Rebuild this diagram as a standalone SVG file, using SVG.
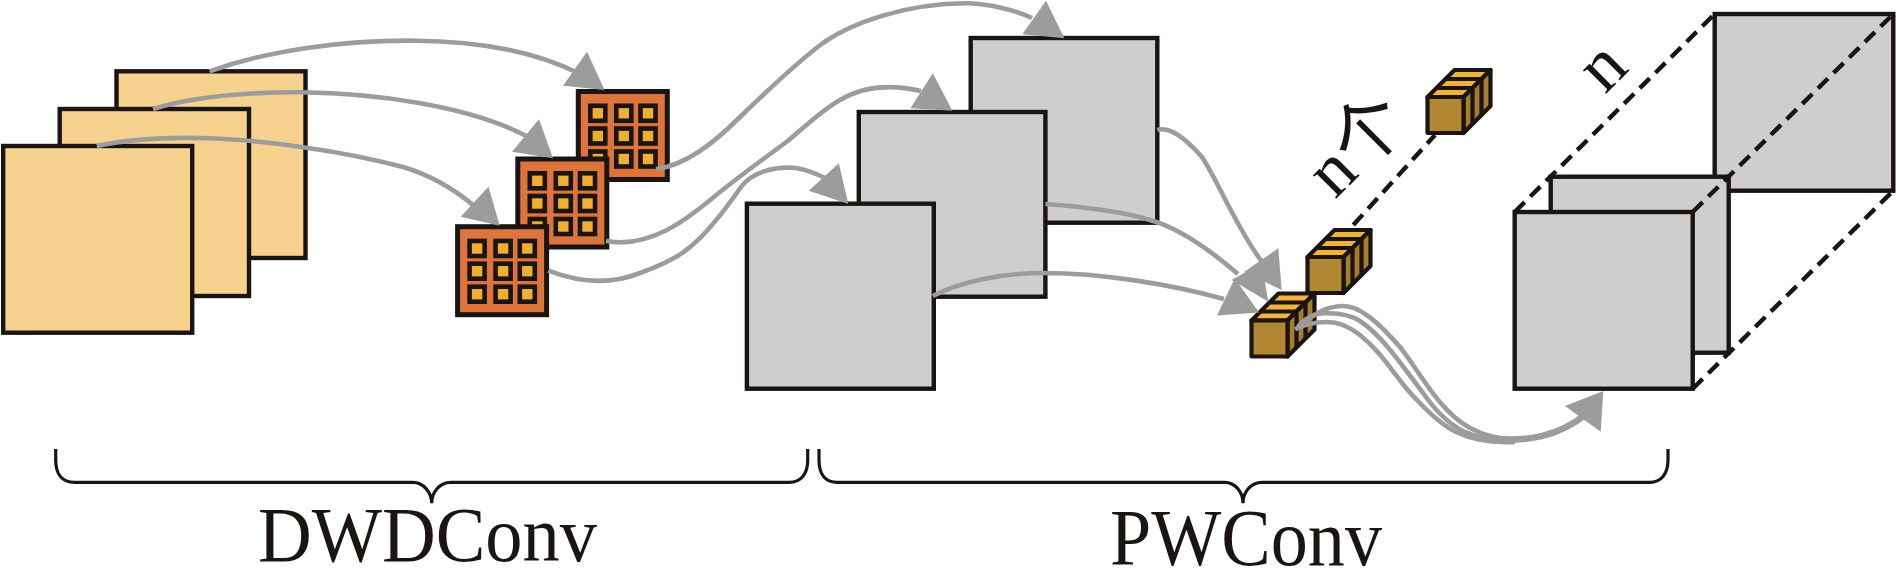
<svg xmlns="http://www.w3.org/2000/svg" xmlns:xlink="http://www.w3.org/1999/xlink" width="1896" height="588" viewBox="0 0 1896 588">
<style>
.y{fill:#f6d28e;stroke:#1a1512;stroke-width:4.4}
.o{fill:#dd743c;stroke:#1a1512;stroke-width:5}
.c{fill:#f2ae32;stroke:#1a1512;stroke-width:4.6}
.g{fill:#cecece;stroke:#1a1512;stroke-width:4.4}
.d{fill:none;stroke:#1a1512;stroke-width:4.4;stroke-dasharray:14 8}
.a{fill:none;stroke:#9c9c9c;stroke-width:4.6}
.h{fill:#9c9c9c;stroke:none}
.b{fill:none;stroke:#1a1512;stroke-width:3.2}
.t{font-family:"Liberation Serif","Noto Sans CJK SC",serif;fill:#1a1512}
.k{stroke:#1a1512;stroke-width:4.2;stroke-linejoin:round}
</style>
<defs>
<g id="tile">
<rect class="o" x="0" y="0" width="89" height="88"/>
<g class="cells">
<rect class="c" x="12" y="14.3" width="15" height="15"/><rect class="c" x="38" y="14.3" width="15" height="15"/><rect class="c" x="62.2" y="14.3" width="15" height="15"/>
<rect class="c" x="12" y="37" width="15" height="15"/><rect class="c" x="38" y="37" width="15" height="15"/><rect class="c" x="62.2" y="37" width="15" height="15"/>
<rect class="c" x="12" y="60" width="15" height="15"/><rect class="c" x="38" y="60" width="15" height="15"/><rect class="c" x="62.2" y="60" width="15" height="15"/>
</g>
</g>
<g id="cube">
<path class="k" fill="#f3b23c" d="M0 0L27 -27H63L36 0Z"/>
<path class="k" fill="#a67c30" d="M36 0L63 -27V9L36 36Z"/>
<rect class="k" fill="#b28733" x="0" y="0" width="36" height="36"/>
<path class="k" fill="none" d="M9 -9H45V27M18 -18H54V18"/>
</g>
</defs>
<rect width="1896" height="588" fill="#fff"/>
<g id="feature-maps-input">
<rect id="in-back" class="y" x="116.5" y="71.3" width="189" height="186.7"/>
<rect id="in-mid" class="y" x="59.7" y="109" width="189.3" height="187"/>
<rect id="in-front" class="y" x="3.2" y="146" width="189" height="186.7"/>
</g>
<g id="kernels">
<use id="kernel-back" href="#tile" x="578.3" y="91.5"/>
<use id="kernel-mid" href="#tile" x="517.8" y="159"/>
<use id="kernel-front" href="#tile" x="457.6" y="226.7"/>
</g>
<g id="feature-maps-mid">
<rect id="mid-back" class="g" x="970.7" y="38" width="186.6" height="184.7"/>
<rect id="mid-mid" class="g" x="858.8" y="112" width="186.6" height="184.7"/>
<rect id="mid-front" class="g" x="746.9" y="203.7" width="186.9" height="185"/>
</g>
<g id="cubes">
<use id="cube-3" href="#cube" x="1427.5" y="97"/>
<use id="cube-2" href="#cube" x="1307.5" y="257"/>
<use id="cube-1" href="#cube" x="1251.5" y="320.5"/>
</g>
<g id="output-stack">
<rect id="out-back" class="g" x="1714.7" y="14" width="178.6" height="176.7"/>
<rect id="out-mid" class="g" x="1550.7" y="176.7" width="178" height="176"/>
<rect id="out-front" class="g" x="1514.7" y="212" width="178" height="176.7"/>
</g>
<g id="connectors">
<path class="a" d="M209.6 71.3C270 50 345 40 415 40.7C480 41 535 52 578 73"/><polygon class="h" points="604.6,90 587,51.7 563,85.7"/>
<path class="a" d="M153 109C195 96 250 92 302 92.3C370 93 470 105 530 138"/><polygon class="h" points="553,158.3 539,119.3 512,151.7"/>
<path class="a" d="M96.7 146C130 139 170 137 209.6 138.3C260 140 340 150 403 167C430 175 455 190 473 205"/><polygon class="h" points="499.8,225.7 488.5,186.7 460.7,216.7"/>
<path class="a" d="M656 169.3C685 165 712 145 740 117C770 88 800 60 823 43C850 24 905 3 968 3.3C990 4 1015 10 1032 18"/><polygon class="h" points="1064.4,38.3 1046,0.7 1022.3,34.3"/>
<path class="a" d="M606 240.7C625 245 645 241 667 230C690 218 705 204 720 192C745 172 765 158 789 140C810 122 825 108 840 100C865 85 895 85 921 91"/><polygon class="h" points="952.4,110.7 932.8,73.3 910.4,108.3"/>
<path class="a" d="M548.3 270.7C580 283 610 285 640 273C665 264 680 256 690 247C705 235 725 210 741 187C752 172 775 166 796 168C808 170 815 173 825 178"/><polygon class="h" points="848.4,204 838.8,163.3 808.8,190.7"/>
<path class="a" d="M1157.3 130C1170 126 1185 138 1202 157C1220 185 1235 225 1262 262"/><polygon class="h" points="1281.7,290 1278.3,248.3 1244,272"/>
<path class="a" d="M1045.4 204C1080 206 1125 212 1150 220C1180 228 1210 250 1238 274"/><polygon class="h" points="1268.3,301.7 1261.7,263.3 1231.7,280"/>
<path class="a" d="M932.8 296C960 282 1000 273 1044 273C1100 273 1170 284 1224 299"/><polygon class="h" points="1259,312.5 1234.8,278.3 1217,315.5"/>
<path class="a" d="M1305 323C1315 312 1330 306 1343.3 306C1360 306 1378 322 1400 347C1420 372 1438 410 1470 428C1485 436 1500 439 1515 440"/>
<path class="a" d="M1298 327C1305 318 1315 313 1327 313.3C1340 313 1350 315 1360 321C1385 338 1405 370 1423 393C1435 410 1447 423 1463 431C1480 439 1498 441 1515 441"/>
<path class="a" d="M1295 329.3C1305 324 1315 322 1327 322C1340 322 1350 327 1360 335C1385 355 1398 382 1417 400C1430 414 1442 425 1456 432C1475 441 1495 443 1515 442"/>
<path class="a" style="stroke-width:6.5" d="M1490 438C1525 443 1560 436 1586 414"/><polygon class="h" points="1603.3,391 1600.7,431.7 1565,406"/>
</g>
<g id="dashes">
<path class="d" d="M1353.3 225L1435 135"/>
<path class="d" d="M1514.7 212L1714.7 14"/>
<path class="d" d="M1692.7 212L1893.3 14"/>
<path class="d" d="M1692.7 388.7L1893.3 190.7"/>
</g>
<g id="braces">
<path class="b" d="M55.7 449V460C55.7 474 62 482.3 74.6 482.3H413C423 482.3 431.7 492 431.7 503.3C431.7 492 440 482.3 450.6 482.3H789C801 482.3 807.7 474 807.7 460V449"/>
<path class="b" d="M819 449V460C819 474 825 482.3 837.3 482.3H1224.8C1235 482.3 1243 492 1243 503.3C1243 492 1251 482.3 1262 482.3H1649.6C1661 482.3 1668 474 1668 460V449"/>
</g>
<g id="labels">
<text class="t" x="258" y="560.7" font-size="79" textLength="339" lengthAdjust="spacingAndGlyphs">DWDConv</text>
<text class="t" x="1110" y="565" font-size="80" textLength="272" lengthAdjust="spacingAndGlyphs">PWConv</text>
<text class="t" transform="translate(1335 200) rotate(-45)" font-size="72">n个</text>
<text class="t" transform="translate(1605 95) rotate(-45)" font-size="72">n</text>
</g>
</svg>
